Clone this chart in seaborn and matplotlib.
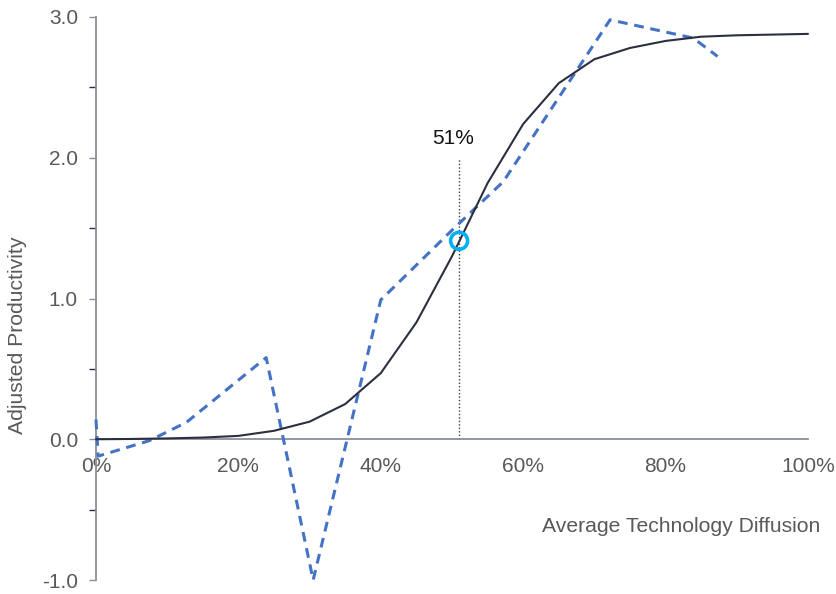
import matplotlib
matplotlib.use("Agg")
import matplotlib.pyplot as plt
import seaborn as sns
import pandas as pd
from matplotlib.ticker import FuncFormatter, MultipleLocator

# Data
curve_x = [0, 5, 10, 15, 20, 25, 30, 35, 40, 45, 50, 55, 60, 65, 70, 75, 80, 85, 90, 95, 100]
curve_y = [0.0, 0.002, 0.006, 0.012, 0.024, 0.06, 0.125, 0.25, 0.47, 0.83, 1.30, 1.82,
           2.24, 2.53, 2.70, 2.78, 2.83, 2.86, 2.87, 2.875, 2.88]
obs_x = [0, 0.3, 7.5, 12.7, 23.9, 30.5, 40.0, 50.3, 57.2, 72.2, 83.9, 87.3]
obs_y = [0.14, -0.12, -0.01, 0.12, 0.58, -1.0, 0.99, 1.50, 1.83, 2.98, 2.85, 2.72]
mark_x = [51]
mark_y = [1.41]
mark_label = "51%"
x_ticks = [0, 20, 40, 60, 80, 100]
y_major = [-1.0, 0.0, 1.0, 2.0, 3.0]

sns.set_theme(style="white")
plt.rcParams['font.family'] = ['Liberation Sans', 'DejaVu Sans']

fig = plt.figure(figsize=(8.36, 5.94), dpi=100)
ax = fig.add_axes([96/836, (594-580)/594, (808-96)/836, (580-17)/594])

curve = pd.DataFrame({"x": curve_x, "y": curve_y})
obs = pd.DataFrame({"x": obs_x, "y": obs_y})

sns.lineplot(data=obs, x="x", y="y", ax=ax, color="#4472C4", lw=2.2,
             linestyle=(0, (3.2, 2.2)), sort=False, zorder=3, clip_on=False)
sns.lineplot(data=curve, x="x", y="y", ax=ax, color="#2B2F3F", lw=1.5, sort=False,
             zorder=4, clip_on=False)

# vertical dotted marker line
ax.vlines(mark_x[0], 0, 2.0, colors="#404040", linestyles=(0, (1, 1.5)), lw=1.0, zorder=2)
ax.text(mark_x[0] - 0.9, 2.07, mark_label, ha="center", va="bottom", fontsize=15, color="#111111")
sns.scatterplot(x=mark_x, y=mark_y, ax=ax, s=150, facecolors="none", edgecolor="#00B0F0",
                linewidth=2.6, zorder=5, clip_on=False)

ax.set_xlim(0, 100)
ax.set_ylim(-1.0, 3.0)

spine_col = "#8A8F9C"
for s in ["top", "right"]:
    ax.spines[s].set_visible(False)
ax.spines["left"].set_color(spine_col)
ax.spines["bottom"].set_color(spine_col)
ax.spines["bottom"].set_position(("data", 0))
ax.spines["left"].set_linewidth(1.3)
ax.spines["bottom"].set_linewidth(1.3)

ax.set_xticks(x_ticks)
ax.xaxis.set_major_formatter(FuncFormatter(lambda v, p: f"{v:.0f}%"))
ax.set_yticks(y_major)
ax.yaxis.set_major_formatter(FuncFormatter(lambda v, p: f"{v:.1f}"))
ax.yaxis.set_minor_locator(MultipleLocator(0.5))

ax.tick_params(axis="x", direction="in", length=5, width=1, color="#4a4e5c",
               labelsize=15, labelcolor="#595959", pad=13)
ax.tick_params(axis="y", which="major", direction="out", length=5, width=1, color=spine_col,
               labelsize=15, labelcolor="#595959", pad=8, left=True)
ax.tick_params(axis="y", which="minor", direction="out", length=5, width=1, color="#2B2F3F", left=True)

ax.set_xlabel("Average Technology Diffusion", fontsize=15.2, color="#595959")
ax.xaxis.set_label_coords(1.017, 0.112)
ax.xaxis.label.set_horizontalalignment("right")
ax.set_ylabel("Adjusted Productivity", fontsize=15.2, color="#595959")
ax.yaxis.set_label_coords(-0.097, 0.435)

fig.savefig("out.png", dpi=100)
